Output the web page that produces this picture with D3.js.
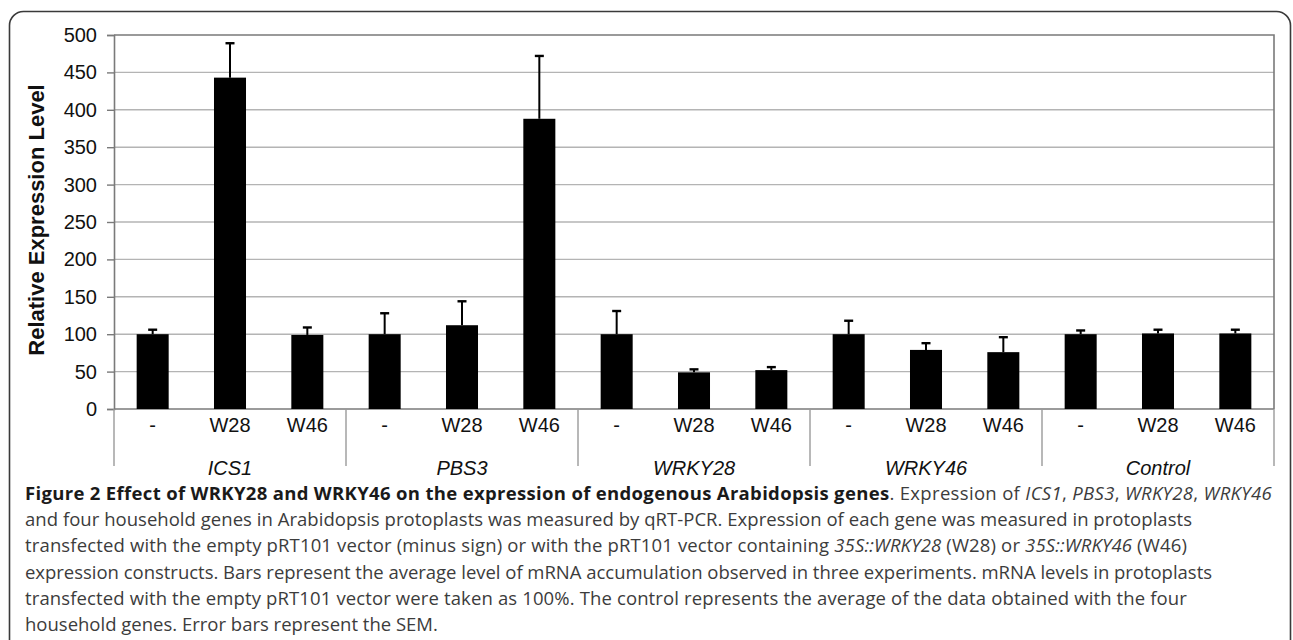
<!DOCTYPE html>
<html lang="en">
  <head>
    <meta charset="utf-8">
    <title>Figure 2</title>
    <script src="https://d3js.org/d3.v7.min.js"></script>
    <style>
      body { margin: 0; background: #fff; }
      svg { display: block; }
    </style>
  </head>
<body>
  <svg id="chart" width="1293" height="640"></svg>
  <script>

    // values
    var groups = ["ICS1", "PBS3", "WRKY28", "WRKY46", "Control"];
    var treatments = ["-", "W28", "W46"];
    var means = [
      [100, 443, 99],
      [100, 112, 388],
      [100, 49, 52],
      [100, 79, 76],
      [100, 101, 101]
    ];
    var sem = [
      [6, 46, 10],
      [28, 32, 84],
      [31, 4, 4],
      [18, 9, 20],
      [5, 5, 5]
    ];
    var yTicks = [0, 50, 100, 150, 200, 250, 300, 350, 400, 450, 500];

    var captionLines = [
      [["b", "Figure 2 Effect of WRKY28 and WRKY46 on the expression of endogenous Arabidopsis genes"], ["n", ". Expression of "], ["i", "ICS1"], ["n", ", "], ["i", "PBS3"], ["n", ", "], ["i", "WRKY28"], ["n", ", "], ["i", "WRKY46"]],
      [["n", "and four household genes in Arabidopsis protoplasts was measured by qRT-PCR. Expression of each gene was measured in protoplasts"]],
      [["n", "transfected with the empty pRT101 vector (minus sign) or with the pRT101 vector containing "], ["i", "35S::WRKY28"], ["n", " (W28) or "], ["i", "35S::WRKY46"], ["n", " (W46)"]],
      [["n", "expression constructs. Bars represent the average level of mRNA accumulation observed in three experiments. mRNA levels in protoplasts"]],
      [["n", "transfected with the empty pRT101 vector were taken as 100%. The control represents the average of the data obtained with the four"]],
      [["n", "household genes. Error bars represent the SEM."]]
    ];
    var captionEnds = [1272, 1192, 1187, 1212, 1187, 478];

    var svg = d3.select("#chart");
    var plotL = 114, plotR = 1274, plotT = 35, plotB = 409;

    // flat list of bars
    var bars = [];
    groups.forEach(function (g, gi) {
      treatments.forEach(function (t, ti) {
        bars.push({ id: gi * 3 + ti, group: g, label: t, value: means[gi][ti], err: sem[gi][ti] });
      });
    });

    var x = d3.scaleBand()
      .domain(bars.map(function (d) { return d.id; }))
      .range([plotL, plotR])
      .paddingInner(0.586)
      .paddingOuter(0.293);

    var y = d3.scaleLinear().domain([0, 500]).range([plotB, plotT]);

    // outer rounded frame (bottom runs off the page)
    svg.append("rect")
      .attr("x", 9.5).attr("y", 11.5)
      .attr("width", 1281).attr("height", 700)
      .attr("rx", 14)
      .attr("fill", "none")
      .attr("stroke", "#3a3a3a")
      .attr("stroke-width", 1.6);

    // gridlines
    svg.append("g")
      .selectAll("line")
      .data(yTicks.slice(1, -1))
      .join("line")
      .attr("x1", plotL).attr("x2", plotR)
      .attr("y1", function (d) { return y(d); })
      .attr("y2", function (d) { return y(d); })
      .attr("stroke", "#b4b4b4")
      .attr("stroke-width", 1.4);

    // plot border top + right
    svg.append("path")
      .attr("d", "M" + plotL + "," + plotT + "H" + plotR + "V" + plotB)
      .attr("fill", "none")
      .attr("stroke", "#7a7a7a")
      .attr("stroke-width", 1.6);

    // y axis
    var yAxis = d3.axisLeft(y).tickValues(yTicks).tickSize(7).tickPadding(10);
    var yg = svg.append("g")
      .attr("transform", "translate(" + plotL + ",0)")
      .call(yAxis);
    yg.select(".domain").attr("stroke", "#7a7a7a").attr("stroke-width", 1.6);
    yg.selectAll(".tick line").attr("stroke", "#7a7a7a").attr("stroke-width", 1.4);
    yg.selectAll(".tick text")
      .attr("font-family", "'Liberation Sans', Arial, sans-serif")
      .attr("font-size", 20)
      .attr("fill", "#111");

    svg.append("text")
      .attr("transform", "translate(44,220) rotate(-90)")
      .attr("text-anchor", "middle")
      .attr("font-family", "'Liberation Sans', Arial, sans-serif")
      .attr("font-weight", "bold")
      .attr("font-size", 22)
      .attr("fill", "#111")
      .text("Relative Expression Level");

    // x axis line
    svg.append("line")
      .attr("x1", plotL).attr("x2", plotR)
      .attr("y1", plotB).attr("y2", plotB)
      .attr("stroke", "#7a7a7a")
      .attr("stroke-width", 1.6);

    // group separators
    var seps = d3.range(groups.length + 1).map(function (i) {
      return i < groups.length ? x(i * 3) - x.step() * x.paddingOuter() : plotR;
    });
    svg.append("g")
      .selectAll("line")
      .data(seps)
      .join("line")
      .attr("x1", function (d) { return d; })
      .attr("x2", function (d) { return d; })
      .attr("y1", plotB).attr("y2", 466)
      .attr("stroke", "#9a9a9a")
      .attr("stroke-width", 1.4);

    // bars
    svg.append("g")
      .selectAll("rect")
      .data(bars)
      .join("rect")
      .attr("x", function (d) { return x(d.id); })
      .attr("y", function (d) { return y(d.value); })
      .attr("width", x.bandwidth())
      .attr("height", function (d) { return y(0) - y(d.value); })
      .attr("fill", "#000");

    // error bars (upper only)
    var eb = svg.append("g").attr("stroke", "#000").attr("stroke-width", 2);
    bars.forEach(function (d) {
      var cx = x(d.id) + x.bandwidth() / 2;
      eb.append("line")
        .attr("x1", cx).attr("x2", cx)
        .attr("y1", y(d.value)).attr("y2", y(d.value + d.err));
      eb.append("line")
        .attr("x1", cx - 4.5).attr("x2", cx + 4.5)
        .attr("y1", y(d.value + d.err)).attr("y2", y(d.value + d.err))
        .attr("stroke-width", 2.4);
    });

    // category labels
    svg.append("g")
      .selectAll("text")
      .data(bars)
      .join("text")
      .attr("x", function (d) { return x(d.id) + x.bandwidth() / 2; })
      .attr("y", 432)
      .attr("text-anchor", "middle")
      .attr("font-family", "'Liberation Sans', Arial, sans-serif")
      .attr("font-size", 20)
      .attr("fill", "#111")
      .text(function (d) { return d.label; });

    svg.append("g")
      .selectAll("text")
      .data(groups)
      .join("text")
      .attr("x", function (d, i) { return (seps[i] + seps[i + 1]) / 2; })
      .attr("y", 475)
      .attr("text-anchor", "middle")
      .attr("font-family", "'Liberation Sans', Arial, sans-serif")
      .attr("font-style", "italic")
      .attr("font-size", 20)
      .attr("fill", "#111")
      .text(function (d) { return d; });

    // caption
    var capX = 25;
    captionLines.forEach(function (parts, i) {
      var t = svg.append("text")
        .attr("x", capX)
        .attr("y", 500 + i * 26.2)
        .attr("font-family", "'Open Sans', 'Noto Sans', sans-serif")
        .attr("font-size", 18.5)
        .attr("fill", "#3c3c3c");
      parts.forEach(function (p) {
        var s = t.append("tspan").text(p[1]);
        if (p[0] == "b") s.attr("font-weight", "bold").attr("fill", "#1a1a1a");
        if (p[0] == "i") s.attr("font-style", "italic");
      });
      // stretch spacing so the line ends where it does in the figure
      var natural = t.node().getComputedTextLength();
      var chars = t.text().length;
      var ls = (captionEnds[i] - capX - natural) / chars;
      if (i < captionLines.length - 1 || ls < 0) t.attr("letter-spacing", ls);
    });

  </script>
</body>
</html>
